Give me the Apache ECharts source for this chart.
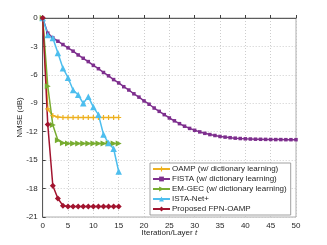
<!DOCTYPE html>
<html><head><meta charset="utf-8">
<script src="https://cdn.jsdelivr.net/npm/echarts@6/dist/echarts.min.js"></script>
<style>html,body{margin:0;padding:0;background:#fff}#c{width:327px;height:245px}</style>
</head><body><div id="c"></div>
<script>
const iters15 = [0,1,2,3,4,5,6,7,8,9,10,11,12,13,14,15];
const iters50 = Array.from({length:51},(_, i)=>i);
const oampVals = [0,-9.6,-10.3,-10.45,-10.5,-10.5,-10.5,-10.5,-10.5,-10.5,-10.5,-10.5,-10.5,-10.5,-10.5,-10.5];
const fistaVals = [0,-1.6,-2.1,-2.45,-2.8,-3.15,-3.5,-3.9,-4.25,-4.6,-5.0,-5.35,-5.75,-6.1,-6.5,-6.85,-7.25,-7.6,-8.0,-8.35,-8.75,-9.1,-9.5,-9.85,-10.2,-10.55,-10.85,-11.15,-11.42,-11.65,-11.85,-12.02,-12.17,-12.3,-12.4,-12.5,-12.57,-12.63,-12.68,-12.72,-12.75,-12.77,-12.79,-12.8,-12.81,-12.82,-12.83,-12.83,-12.84,-12.84,-12.84];
const emgecVals = [0,-7.2,-11.3,-12.9,-13.2,-13.25,-13.25,-13.25,-13.25,-13.25,-13.25,-13.25,-13.25,-13.25,-13.25,-13.25];
const istaVals = [0,-1.8,-2.1,-3.7,-5.3,-6.3,-7.6,-8.1,-9.0,-8.3,-9.4,-10.2,-12.3,-13.2,-13.8,-16.2];
const fpnVals = [0,-11.25,-17.7,-19.05,-19.8,-19.9,-19.9,-19.9,-19.9,-19.9,-19.9,-19.9,-19.9,-19.9,-19.9,-19.9];
const names = ['OAMP (w/ dictionary learning)','FISTA (w/ dictionary learning)','EM-GEC (w/ dictionary learning)','ISTA-Net+','Proposed FPN-OAMP'];
const xTicks = [0,5,10,15,20,25,30,35,40,45,50];
const yTicks = [-21,-18,-15,-12,-9,-6,-3,0];

const pair = (xs, ys) => xs.map((x,i)=>[x, ys[i]]);
const FONT = 'Liberation Sans, Arial, sans-serif';
const plus = 'path://M0.38,0H0.62V0.38H1V0.62H0.62V1H0.38V0.62H0V0.38H0.38Z';
function ser(name, data, color, symbol, size, rot){
  return {name, type:'line', data, symbol, symbolSize:size, symbolRotate:rot||0,
    lineStyle:{color, width:1.5}, itemStyle:{color, borderWidth:0}, showSymbol:true,
    animation:false, z: 3};
}
const chart = echarts.init(document.getElementById('c'), null, {renderer:'canvas'});
chart.setOption({
  animation:false,
  textStyle:{fontFamily:FONT},
  grid:{left:42.7, right:31, top:18, bottom:28, show:true, borderColor:'#9a9a9a', borderWidth:0.8},
  xAxis:{type:'value', min:0, max:50, interval:5,
    name:'{a|Iteration/Layer }{b|t}', nameLocation:'middle', nameGap:12, nameMoveOverlap:false,
    nameTextStyle:{rich:{a:{fontSize:8, color:'#262626', fontFamily:FONT}, b:{fontSize:8, color:'#262626', fontStyle:'italic', fontFamily:FONT}}},
    axisLine:{lineStyle:{color:'#404040', width:0.8}},
    axisTick:{inside:true, length:3, lineStyle:{color:'#404040'}},
    axisLabel:{fontSize:8, color:'#262626', margin:5, fontFamily:FONT},
    splitLine:{show:true, lineStyle:{color:'#c0c0c0', type:[1,2], width:0.8}}
  },
  yAxis:{type:'value', min:-21, max:0, interval:3,
    name:'NMSE (dB)', nameLocation:'middle', nameGap:19, nameMoveOverlap:false,
    nameTextStyle:{fontSize:8, color:'#262626', fontFamily:FONT},
    axisLine:{lineStyle:{color:'#404040', width:0.8}},
    axisTick:{inside:true, length:3, lineStyle:{color:'#404040'}},
    axisLabel:{fontSize:8, color:'#262626', margin:5, fontFamily:FONT},
    splitLine:{show:true, lineStyle:{color:'#c0c0c0', type:[1,2], width:0.8}}
  },
  legend:{orient:'vertical', left:150, top:163, itemWidth:17, itemHeight:6, itemGap:2,
    padding:[2,4,2,2], backgroundColor:'#fff', borderColor:'#888', borderWidth:0.8, borderRadius:0,
    textStyle:{fontSize:8, color:'#262626', fontFamily:FONT, padding:[0,0,0,-3]},
    data:names},
  series:[
    ser(names[0], pair(iters15, oampVals), '#EDB120', plus, 5),
    ser(names[1], pair(iters50, fistaVals), '#7E2F8E', 'rect', 3.5),
    ser(names[2], pair(iters15, emgecVals), '#77AC30', 'triangle', 6, -90),
    ser(names[3], pair(iters15, istaVals), '#4DBEEE', 'triangle', 6.5),
    ser(names[4], pair(iters15, fpnVals), '#A2142F', 'diamond', 6)
  ]
});
</script></body></html>
